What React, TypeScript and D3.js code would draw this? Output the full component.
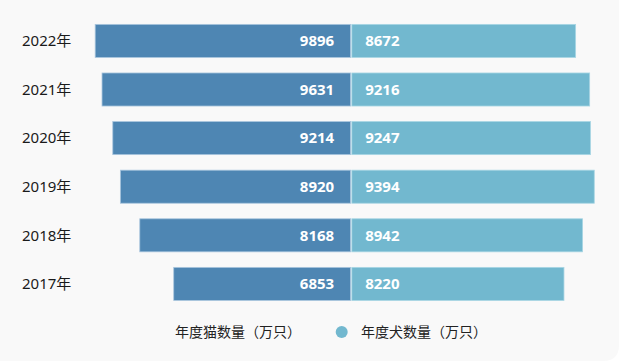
import { useEffect, useRef } from "react";
import * as d3 from "d3";

const years = ["2022年", "2021年", "2020年", "2019年", "2018年", "2017年"];
const catCounts = [9896, 9631, 9214, 8920, 8168, 6853];
const dogCounts = [8672, 9216, 9247, 9394, 8942, 8220];
const seriesNames = ["年度猫数量（万只）", "年度犬数量（万只）"];

const CAT = "#4e86b3";
const DOG = "#72b8cf";
const FONT = "'Noto Sans', 'Noto Sans CJK SC', sans-serif";

export default function App() {
  const svgRef = useRef<SVGSVGElement>(null);

  useEffect(() => {
    if (!svgRef.current) return;
    const svg = d3.select(svgRef.current);
    svg.selectAll("*").remove();

    const width = 619;
    const height = 361;
    const center = 351.2;

    // card background, rounded at the bottom right only
    const r = 16;
    svg
      .append("path")
      .attr(
        "d",
        `M0,0 H${width} V${height - r} Q${width},${height} ${width - r},${height} H0 Z`
      )
      .attr("fill", "#f9f9f9");

    const y = d3
      .scaleBand<string>()
      .domain(years)
      .range([16.6, 16.6 + 48.6 * years.length])
      .paddingInner(0.32)
      .paddingOuter(0.16);

    const x = d3.scaleLinear().domain([0, 10000]).range([0, 258.1]);

    const rows = svg
      .append("g")
      .selectAll("g")
      .data(years)
      .join("g")
      .attr("transform", (d) => `translate(0,${y(d)})`);

    const bh = y.bandwidth();

    // cat bars (left)
    rows
      .append("rect")
      .attr("x", (_, i) => center - 0.6 - x(catCounts[i]))
      .attr("y", 0)
      .attr("width", (_, i) => x(catCounts[i]))
      .attr("height", bh)
      .attr("fill", CAT)
      .attr("stroke", "#a9c6de")
      .attr("stroke-width", 0.8);

    // dog bars (right)
    rows
      .append("rect")
      .attr("x", center + 0.6)
      .attr("y", 0)
      .attr("width", (_, i) => x(dogCounts[i]))
      .attr("height", bh)
      .attr("fill", DOG)
      .attr("stroke", "#a8d6e4")
      .attr("stroke-width", 0.8);

    rows
      .append("text")
      .attr("x", center - 17)
      .attr("y", bh / 2)
      .attr("dy", "0.36em")
      .attr("text-anchor", "end")
      .attr("fill", "#fff")
      .attr("font-family", FONT)
      .attr("font-weight", 700)
      .attr("font-size", 15)
      .text((_, i) => catCounts[i]);

    rows
      .append("text")
      .attr("x", center + 14)
      .attr("y", bh / 2)
      .attr("dy", "0.36em")
      .attr("text-anchor", "start")
      .attr("fill", "#fff")
      .attr("font-family", FONT)
      .attr("font-weight", 700)
      .attr("font-size", 15)
      .text((_, i) => dogCounts[i]);

    // year labels
    rows
      .append("text")
      .attr("x", 22)
      .attr("y", bh / 2)
      .attr("dy", "0.36em")
      .attr("fill", "#1a1a1a")
      .attr("font-family", FONT)
      .attr("font-size", 15)
      .text((d) => d);

    // legend
    const legend = svg.append("g").attr("transform", "translate(0,332)");
    legend
      .append("text")
      .attr("x", 175)
      .attr("dy", "0.36em")
      .attr("fill", "#222")
      .attr("font-family", FONT)
      .attr("font-size", 14)
      .text(seriesNames[0]);
    legend
      .append("circle")
      .attr("cx", 341.7)
      .attr("cy", 0)
      .attr("r", 6)
      .attr("fill", DOG);
    legend
      .append("text")
      .attr("x", 361)
      .attr("dy", "0.36em")
      .attr("fill", "#222")
      .attr("font-family", FONT)
      .attr("font-size", 14)
      .text(seriesNames[1]);
  }, []);

  return (
    <div style={{ position: "fixed", left: 0, top: 0, background: "#fff" }}>
      <svg ref={svgRef} width={619} height={361} style={{ display: "block" }} />
    </div>
  );
}
